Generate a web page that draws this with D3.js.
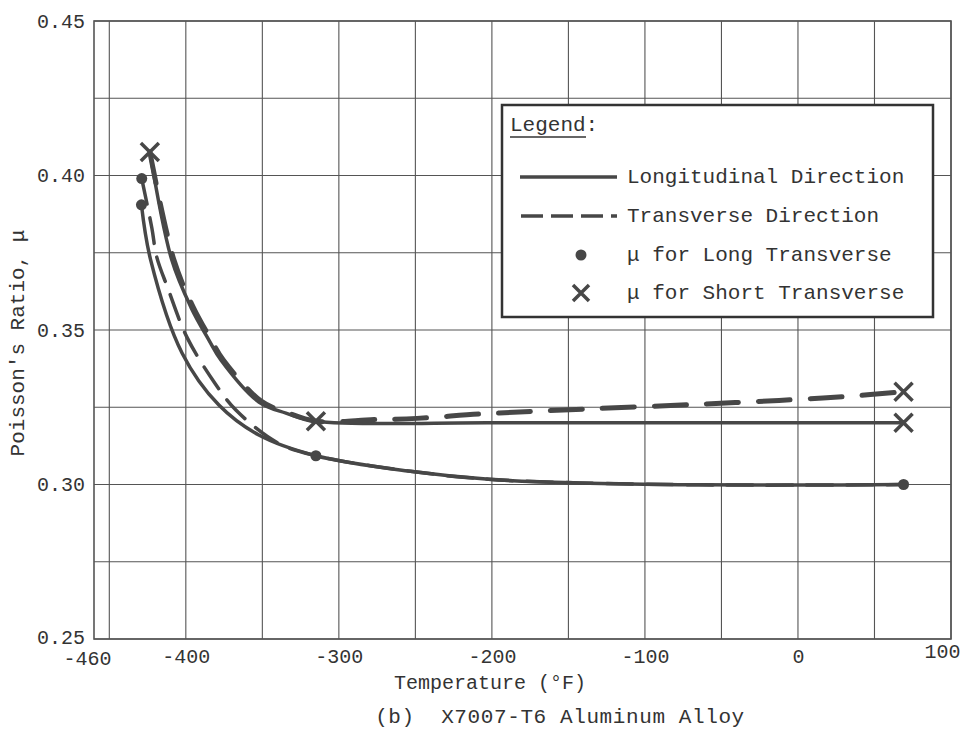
<!DOCTYPE html>
<html>
<head>
<meta charset="utf-8">
<script src="https://cdn.jsdelivr.net/npm/d3@7"></script>
<style>
  body { margin: 0; background: #fff; }
  text { font-family: "Liberation Mono", "Courier New", monospace; fill: #333; }
</style>
</head>
<body>
<div id="chart"></div>
<script>
// tick labels
const xTicks = [-460, -400, -300, -200, -100, 0, 100]
const yTicks = [0.25, 0.30, 0.35, 0.40, 0.45]

// curves: [temperature F, poisson's ratio]
// longitudinal direction, long transverse (lower solid)
const longitudinalLT = [[-429, 0.3905], [-423, 0.3727], [-402.4, 0.3425], [-378.4, 0.3257], [-352.3, 0.316],
    [-315, 0.3093], [-252, 0.3042], [-202, 0.3017], [-143, 0.3005], [-65, 0.2999], [0, 0.2998], [69, 0.300]]
// transverse direction, long transverse (lower dashed)
const transverseLT = [[-428.8, 0.399], [-422.2, 0.383], [-419, 0.3736], [-411.8, 0.3636], [-399.3, 0.3477], [-381, 0.3328],
    [-367.3, 0.3241], [-340, 0.3135], [-315, 0.3093], [-252, 0.3042], [-202, 0.3017], [-143, 0.3005],
    [-65, 0.2999], [0, 0.2998], [69, 0.300]]
// longitudinal direction, short transverse (upper solid)
const longitudinalST = [[-423.5, 0.4076], [-409.2, 0.3727], [-396.7, 0.3574], [-385, 0.3468], [-377.1, 0.3403],
    [-352.3, 0.3267], [-334.6, 0.3231], [-315, 0.3205], [-200, 0.320], [-100, 0.320], [69, 0.320]]
// transverse direction, short transverse (upper dashed)
const transverseST = [[-423.5, 0.4076], [-407.8, 0.3727], [-395.2, 0.3574], [-383.4, 0.3468], [-375.5, 0.3403],
    [-350.8, 0.3270], [-333.8, 0.3233], [-315, 0.3205], [-277, 0.321], [-249, 0.3214], [-208, 0.3228], [-167, 0.3238],
    [-41, 0.3265], [-2, 0.3275], [32, 0.3285], [69, 0.330]]

// measured points
const longTransversePts = [[-429, 0.3905], [-428.8, 0.399], [-315, 0.3093], [69, 0.300]]
const shortTransversePts = [[-423.5, 0.4076], [-315, 0.3205], [69, 0.330], [69, 0.320]]

const legendItems = ['Longitudinal Direction', 'Transverse Direction', 'μ for Long Transverse', 'μ for Short Transverse']

const width = 967
const height = 729
const ink = '#474747'

const svg = d3.select('#chart').append('svg')
    .attr('width', width)
    .attr('height', height)

const x = d3.scaleLinear().domain([-460, 100]).range([94, 951])
const y = d3.scaleLinear().domain([0.25, 0.45]).range([639, 21])

// grid
const grid = svg.append('g').attr('class', 'grid')
    .attr('stroke', '#555').attr('stroke-width', 1.1)
grid.selectAll('line.v')
    .data(d3.range(-450, 101, 50))
    .join('line').attr('class', 'v')
    .attr('x1', d => x(d)).attr('x2', d => x(d))
    .attr('y1', y(0.25)).attr('y2', y(0.45))
grid.selectAll('line.h')
    .data(d3.range(0, 9).map(i => 0.25 + i * 0.025))
    .join('line').attr('class', 'h')
    .attr('x1', x(-460)).attr('x2', x(100))
    .attr('y1', d => y(d)).attr('y2', d => y(d))
grid.append('rect')
    .attr('x', x(-460)).attr('y', y(0.45))
    .attr('width', x(100) - x(-460)).attr('height', y(0.25) - y(0.45))
    .attr('fill', 'none').attr('stroke-width', 1.6)

// axes
const xAxis = svg.append('g')
    .attr('transform', `translate(0,${y(0.25)})`)
    .call(d3.axisBottom(x).tickValues(xTicks).tickSize(0).tickPadding(10).tickFormat(d3.format('d')))
xAxis.select('.domain').remove()
xAxis.selectAll('text').style('font-size', '20px').attr('fill', '#333')
    .text(d => String(d).replace('−', '-'))
    // first and last labels sit a little off the regular spot in the reference
    .attr('dx', d => d === -460 ? -7 : d === 100 ? -9 : 0)
    .attr('dy', d => d === 100 ? '0.45em' : d === -460 ? '0.82em' : '0.71em')

const yAxis = svg.append('g')
    .attr('transform', `translate(${x(-460)},0)`)
    .call(d3.axisLeft(y).tickValues(yTicks).tickSize(0).tickPadding(9).tickFormat(d3.format('.2f')))
yAxis.select('.domain').remove()
yAxis.selectAll('text').style('font-size', '20px').attr('fill', '#333')
    .attr('dy', d => d === 0.25 ? '0.2em' : '0.32em')

svg.append('text')
    .attr('x', 490).attr('y', 689)
    .attr('text-anchor', 'middle')
    .style('font-size', '20px')
    .text('Temperature (°F)')

svg.append('text')
    .attr('transform', 'translate(24,343) rotate(-90)')
    .attr('text-anchor', 'middle')
    .style('font-size', '21px')
    .text("Poisson's Ratio, μ")

svg.append('text')
    .attr('x', 560).attr('y', 723)
    .attr('text-anchor', 'middle')
    .style('font-size', '21px')
    .style('letter-spacing', '0.6px')
    .attr('xml:space', 'preserve')
    .text('(b)  X7007-T6 Aluminum Alloy')

// curves
const line = d3.line()
    .x(d => x(d[0]))
    .y(d => y(d[1]))
    .curve(d3.curveCatmullRom.alpha(0.5))

const curves = svg.append('g').attr('class', 'curves').attr('fill', 'none').attr('stroke', ink)
    .attr('stroke-linecap', 'round')
curves.append('path').attr('d', line(longitudinalLT)).attr('stroke-width', 3.5)
curves.append('path').attr('d', line(transverseLT)).attr('stroke-width', 3.5).attr('stroke-dasharray', '26,14')
curves.append('path').attr('d', line(longitudinalST)).attr('stroke-width', 3.5)
curves.append('path').attr('d', line(transverseST)).attr('stroke-width', 5).attr('stroke-dasharray', '32,20')

// markers
svg.append('g').selectAll('circle')
    .data(longTransversePts)
    .join('circle')
    .attr('cx', d => x(d[0])).attr('cy', d => y(d[1]))
    .attr('r', 5.5)
    .attr('fill', ink)

const cross = (g, s) => g.append('path')
    .attr('d', `M${-s},${-s}L${s},${s}M${-s},${s}L${s},${-s}`)
    .attr('stroke', ink).attr('stroke-width', 3.5).attr('fill', 'none')

svg.append('g').selectAll('g')
    .data(shortTransversePts)
    .join('g')
    .attr('transform', d => `translate(${x(d[0])},${y(d[1])})`)
    .each(function () { cross(d3.select(this), 9) })

// legend
const legend = svg.append('g').attr('class', 'legend')
legend.append('rect')
    .attr('x', 502).attr('y', 105).attr('width', 431).attr('height', 212)
    .attr('fill', '#fff').attr('stroke', '#333').attr('stroke-width', 2.5)
legend.append('text')
    .attr('x', 510).attr('y', 131)
    .style('font-size', '21px')
    .text('Legend:')
legend.append('line')
    .attr('x1', 510).attr('x2', 586).attr('y1', 137).attr('y2', 137)
    .attr('stroke', '#333').attr('stroke-width', 1.5)

const rowY = [177, 216, 255, 293]
legend.selectAll('text.item')
    .data(legendItems)
    .join('text').attr('class', 'item')
    .attr('x', 627).attr('y', (d, i) => rowY[i] + 6)
    .style('font-size', '21px')
    .text(d => d)

legend.append('line')
    .attr('x1', 520).attr('x2', 617).attr('y1', rowY[0]).attr('y2', rowY[0])
    .attr('stroke', ink).attr('stroke-width', 3.5)
legend.append('line')
    .attr('x1', 521).attr('x2', 617).attr('y1', rowY[1]).attr('y2', rowY[1])
    .attr('stroke', ink).attr('stroke-width', 3.5).attr('stroke-dasharray', '22,8')
legend.append('circle')
    .attr('cx', 581).attr('cy', rowY[2]).attr('r', 5.5).attr('fill', ink)
cross(legend.append('g').attr('transform', `translate(581,${rowY[3]})`), 8)
</script>
</body>
</html>
